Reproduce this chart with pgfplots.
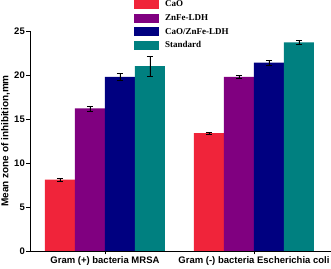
\documentclass[border=0pt]{standalone}
\usepackage{pgfplots}
\pgfplotsset{compat=1.18}
\usepackage{fontspec}
\setmainfont{Liberation Sans}
\newfontfamily\legfont{Liberation Serif}
\definecolor{cRed}{RGB}{240,36,58}
\definecolor{cPur}{RGB}{128,0,128}
\definecolor{cNav}{RGB}{0,0,128}
\definecolor{cTeal}{RGB}{0,128,128}
\begin{document}
\begin{tikzpicture}
\useasboundingbox (0,0) rectangle (331bp,269bp);
\begin{axis}[
  at={(30bp,18bp)}, anchor=south west,
  scale only axis, width=301bp, height=220bp,
  ybar=0pt, bar width=30bp,
  ymin=0, ymax=25, ytick={0,5,10,15,20,25},
  xmin=-0.503, xmax=1.517,
  xtick={0,1},
  xticklabels={Gram (+) bacteria MRSA, Gram (-) bacteria Escherichia coli},
  axis lines=left, axis line style={-, line width=1pt},
  tick align=outside, major tick length=3.5bp,
  tick style={black, line width=0.8pt},
  /pgf/number format/assume math mode=true,
  ticklabel style={font=\fontsize{9.5bp}{11bp}\selectfont\bfseries},
  xticklabel style={inner sep=1.5bp},
  yticklabel style={inner sep=1.5bp},
  ylabel={Mean zone of inhibition,mm},
  ylabel style={at={(axis description cs:-0.0963,0.5)}, anchor=north, inner sep=0pt, font=\fontsize{10bp}{12bp}\selectfont\bfseries},
  legend image code/.code={\fill[#1,draw=none] (0bp,-4.5bp) rectangle (25bp,4.5bp);},
  legend style={at={(rel axis cs:0.3455,1.141)}, anchor=north west, draw=none, fill=none,
    inner sep=0pt, row sep=4.6bp, font=\fontsize{9bp}{9bp}\selectfont\legfont\bfseries,
    /tikz/every even column/.append style={column sep=0pt},
    nodes={inner xsep=6bp, inner ysep=0pt}},
  legend cell align=left,
  error bars/y dir=both, error bars/y explicit,
  error bars/error bar style={black, line width=0.6pt},
  error bars/error mark options={black, rotate=90, mark size=3bp, line width=0.6pt},
]
\addplot[fill=cRed, draw=none] table[x=x, y=y, y error=e] {
x y e
0 8.1 0.2
1 13.4 0.12
};
\addplot[fill=cPur, draw=none] table[x=x, y=y, y error=e] {
x y e
0 16.2 0.3
1 19.8 0.15
};
\addplot[fill=cNav, draw=none] table[x=x, y=y, y error=e] {
x y e
0 19.8 0.4
1 21.4 0.25
};
\addplot[fill=cTeal, draw=none] table[x=x, y=y, y error=e] {
x y e
0 21.0 1.1
1 23.7 0.2
};
\legend{CaO, ZnFe-LDH, CaO/ZnFe-LDH, Standard}
\end{axis}
\end{tikzpicture}
\end{document}
